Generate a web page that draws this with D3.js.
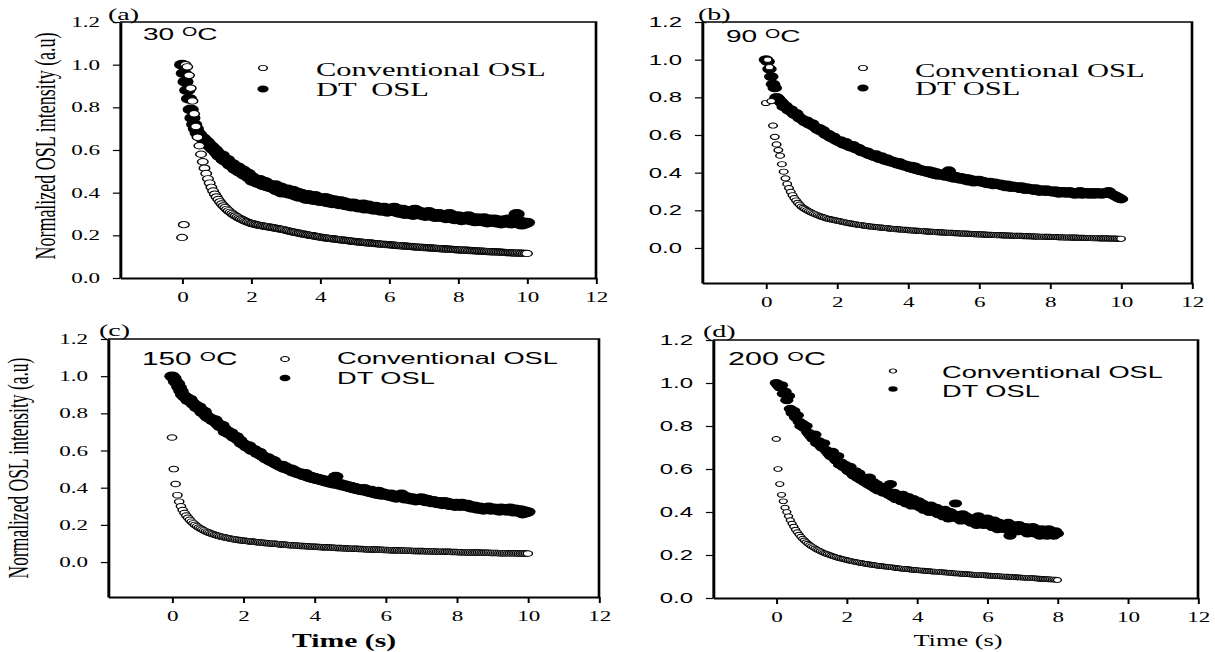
<!DOCTYPE html>
<html>
<head>
<meta charset="utf-8">
<script src="https://cdn.jsdelivr.net/npm/d3@7/dist/d3.min.js"></script>
<style>
  body { margin: 0; background: #fff; }
  svg { display: block; }
</style>
</head>
<body>
<svg id="chart" width="1215" height="652"></svg>
<script>
// channel width of the OSL readout (s)
const timeStep = 0.05;
const xTicks = [0, 2, 4, 6, 8, 10, 12];
const yTicks = [0, 0.2, 0.4, 0.6, 0.8, 1.0, 1.2];
const panelNames = ["(a)", "(b)", "(c)", "(d)"];
const temps = ["30", "90", "150", "200"];
const convName = "Conventional OSL";
const dtNames = ["DT  OSL", "DT OSL", "DT OSL", "DT OSL"];

// (a) 30 C
const convA = [0.19,0.25,1.00,0.99,0.95,0.89,0.83,0.77,0.71,0.66,0.62,
0.58,0.545,0.515,0.49,0.465,0.445,0.425,0.408,0.393,0.38,
0.368,0.357,0.347,0.338,0.33,0.322,0.315,0.308,0.302,0.296,
0.291,0.286,0.281,0.277,0.273,0.269,0.265,0.262,0.259,0.256,
0.254,0.252,0.250,0.248,0.247,0.245,0.244,0.242,0.241,0.240,
0.238,0.237,0.235,0.234,0.232,0.231,0.229,0.228,0.226,0.224,
0.222,0.220,0.218,0.216,0.215,0.213,0.211,0.210,0.208,0.206,
0.205,0.203,0.202,0.200,0.199,0.198,0.196,0.195,0.193,0.192,
0.190,0.189,0.188,0.187,0.186,0.185,0.184,0.183,0.182,0.181,
0.180,0.179,0.178,0.177,0.176,0.175,0.174,0.173,0.172,0.171,
0.170,0.169,0.168,0.168,0.167,0.166,0.165,0.164,0.164,0.163,
0.162,0.161,0.161,0.160,0.159,0.158,0.158,0.157,0.156,0.156,
0.155,0.154,0.154,0.153,0.152,0.152,0.151,0.150,0.150,0.149,
0.148,0.148,0.147,0.147,0.146,0.145,0.145,0.144,0.144,0.143,
0.142,0.142,0.141,0.141,0.140,0.140,0.139,0.139,0.138,0.137,
0.137,0.136,0.136,0.135,0.135,0.134,0.134,0.133,0.133,0.132,
0.132,0.131,0.131,0.130,0.130,0.129,0.129,0.128,0.128,0.127,
0.127,0.126,0.126,0.126,0.125,0.125,0.124,0.124,0.123,0.123,
0.122,0.122,0.122,0.121,0.121,0.120,0.120,0.119,0.119,0.119,
0.118,0.118,0.117,0.117,0.117,0.116,0.116,0.115,0.115,0.115];
const dtA = [1.00,0.96,0.92,0.88,0.84,0.79,0.75,0.72,0.70,0.68,0.67,
0.66,0.655,0.645,0.64,0.63,0.62,0.615,0.605,0.60,0.59,
0.58,0.57,0.575,0.555,0.55,0.555,0.54,0.53,0.535,0.52,
0.51,0.52,0.50,0.495,0.505,0.485,0.48,0.49,0.47,0.475,
0.455,0.465,0.45,0.445,0.46,0.44,0.435,0.45,0.43,0.44,
0.425,0.43,0.42,0.435,0.41,0.415,0.425,0.40,0.41,0.405,
0.415,0.395,0.40,0.41,0.39,0.385,0.40,0.38,0.395,0.385,
0.38,0.37,0.39,0.375,0.38,0.365,0.385,0.37,0.375,0.36,
0.37,0.365,0.375,0.355,0.37,0.36,0.35,0.365,0.355,0.36,
0.345,0.36,0.35,0.355,0.34,0.35,0.345,0.335,0.35,0.34,
0.345,0.33,0.34,0.335,0.345,0.325,0.335,0.34,0.325,0.33,
0.32,0.335,0.325,0.33,0.315,0.325,0.33,0.32,0.31,0.325,
0.315,0.32,0.33,0.31,0.32,0.305,0.315,0.32,0.30,0.31,
0.315,0.30,0.31,0.295,0.32,0.305,0.30,0.31,0.295,0.305,
0.29,0.30,0.31,0.295,0.29,0.30,0.285,0.295,0.30,0.29,
0.285,0.295,0.28,0.29,0.30,0.28,0.29,0.275,0.285,0.29,
0.28,0.27,0.285,0.275,0.28,0.29,0.27,0.28,0.275,0.265,
0.28,0.27,0.275,0.265,0.28,0.27,0.26,0.275,0.27,0.265,
0.275,0.26,0.27,0.265,0.255,0.27,0.26,0.265,0.275,0.26,
0.255,0.265,0.26,0.30,0.255,0.265,0.25,0.26,0.255,0.26];

// (b) 90 C
const convB = [0.77,1.00,0.96,0.78,0.65,0.59,0.55,0.52,0.49,0.445,0.405,
0.37,0.34,0.318,0.298,0.28,0.265,0.252,0.24,0.23,0.22,
0.213,0.207,0.201,0.196,0.191,0.186,0.182,0.178,0.174,0.17,
0.167,0.164,0.161,0.158,0.155,0.153,0.151,0.149,0.147,0.145,
0.143,0.141,0.139,0.137,0.135,0.133,0.131,0.13,0.128,0.126,
0.125,0.123,0.122,0.121,0.119,0.118,0.117,0.115,0.114,0.113,
0.112,0.111,0.11,0.109,0.108,0.107,0.106,0.105,0.104,0.103,
0.102,0.101,0.1,0.1,0.099,0.098,0.097,0.096,0.096,0.095,
0.094,0.093,0.093,0.092,0.091,0.091,0.09,0.089,0.089,0.088,
0.087,0.087,0.086,0.086,0.085,0.084,0.084,0.083,0.083,0.082,
0.082,0.081,0.081,0.08,0.08,0.079,0.079,0.078,0.078,0.077,
0.077,0.076,0.076,0.075,0.075,0.074,0.074,0.073,0.073,0.072,
0.072,0.072,0.071,0.071,0.07,0.07,0.07,0.069,0.069,0.068,
0.068,0.068,0.067,0.067,0.067,0.066,0.066,0.066,0.065,0.065,
0.065,0.064,0.064,0.064,0.063,0.063,0.063,0.062,0.062,0.062,
0.061,0.061,0.061,0.06,0.06,0.06,0.06,0.059,0.059,0.059,
0.058,0.058,0.058,0.058,0.057,0.057,0.057,0.056,0.056,0.056,
0.056,0.055,0.055,0.055,0.055,0.054,0.054,0.054,0.054,0.053,
0.053,0.053,0.053,0.052,0.052,0.052,0.052,0.051,0.051,0.051,
0.051,0.051,0.05,0.05,0.05,0.05,0.05,0.049,0.049,0.049];
const dtB = [1.00,0.99,0.95,0.91,0.87,0.85,0.80,0.79,0.78,0.77,0.75,
0.755,0.74,0.73,0.735,0.72,0.71,0.715,0.70,0.69,0.685,
0.68,0.67,0.675,0.66,0.655,0.66,0.645,0.64,0.63,0.635,
0.62,0.625,0.61,0.60,0.605,0.59,0.585,0.59,0.575,0.57,
0.565,0.57,0.555,0.55,0.56,0.545,0.54,0.535,0.545,0.53,
0.525,0.53,0.52,0.51,0.515,0.505,0.51,0.495,0.50,0.49,
0.485,0.495,0.48,0.475,0.485,0.47,0.465,0.475,0.46,0.465,
0.455,0.46,0.45,0.445,0.455,0.44,0.445,0.435,0.44,0.43,
0.425,0.435,0.42,0.43,0.415,0.42,0.41,0.415,0.405,0.41,
0.40,0.41,0.395,0.405,0.39,0.40,0.385,0.395,0.39,0.385,
0.38,0.39,0.41,0.375,0.385,0.37,0.38,0.375,0.365,0.375,
0.37,0.36,0.37,0.355,0.365,0.36,0.35,0.36,0.355,0.36,
0.35,0.355,0.345,0.35,0.34,0.35,0.345,0.335,0.345,0.34,
0.335,0.34,0.33,0.335,0.325,0.335,0.33,0.32,0.33,0.325,
0.32,0.325,0.315,0.325,0.32,0.31,0.32,0.315,0.31,0.315,
0.305,0.315,0.31,0.30,0.31,0.305,0.30,0.31,0.30,0.305,
0.30,0.295,0.305,0.30,0.29,0.30,0.295,0.30,0.29,0.295,
0.30,0.29,0.295,0.285,0.295,0.29,0.30,0.285,0.295,0.29,
0.295,0.285,0.29,0.295,0.285,0.29,0.295,0.29,0.285,0.29,
0.295,0.29,0.30,0.29,0.285,0.28,0.275,0.27,0.265,0.26];

// (c) 150 C
const convC = [0.67,0.50,0.42,0.36,0.325,0.30,0.28,0.264,0.25,0.238,0.227,
0.217,0.208,0.2,0.193,0.186,0.18,0.175,0.17,0.165,0.161,
0.157,0.153,0.15,0.147,0.144,0.141,0.138,0.136,0.134,0.132,
0.13,0.128,0.126,0.124,0.122,0.121,0.119,0.118,0.116,0.115,
0.114,0.113,0.112,0.111,0.11,0.109,0.108,0.107,0.106,0.105,
0.104,0.103,0.102,0.101,0.1,0.099,0.099,0.098,0.097,0.096,
0.095,0.094,0.094,0.093,0.092,0.091,0.091,0.09,0.089,0.089,
0.088,0.087,0.087,0.086,0.085,0.085,0.084,0.084,0.083,0.082,
0.082,0.081,0.081,0.08,0.08,0.079,0.079,0.078,0.078,0.077,
0.077,0.076,0.076,0.075,0.075,0.074,0.074,0.073,0.073,0.072,
0.072,0.072,0.071,0.071,0.07,0.07,0.07,0.069,0.069,0.068,
0.068,0.068,0.067,0.067,0.067,0.066,0.066,0.066,0.065,0.065,
0.065,0.064,0.064,0.064,0.063,0.063,0.063,0.062,0.062,0.062,
0.061,0.061,0.061,0.061,0.06,0.06,0.06,0.059,0.059,0.059,
0.059,0.058,0.058,0.058,0.057,0.057,0.057,0.057,0.056,0.056,
0.056,0.056,0.055,0.055,0.055,0.055,0.054,0.054,0.054,0.054,
0.053,0.053,0.053,0.053,0.052,0.052,0.052,0.052,0.051,0.051,
0.051,0.051,0.051,0.05,0.05,0.05,0.05,0.05,0.049,0.049,
0.049,0.049,0.049,0.048,0.048,0.048,0.048,0.048,0.047,0.047,
0.047,0.047,0.047,0.047,0.046,0.046,0.046,0.046,0.046,0.046];
const dtC = [1.00,0.99,0.97,0.96,0.94,0.92,0.90,0.89,0.885,0.87,0.875,
0.86,0.85,0.845,0.83,0.835,0.82,0.805,0.81,0.79,0.78,
0.775,0.77,0.76,0.765,0.75,0.74,0.73,0.735,0.72,0.70,
0.705,0.69,0.695,0.68,0.67,0.675,0.66,0.655,0.64,0.635,
0.63,0.62,0.625,0.61,0.60,0.605,0.595,0.585,0.59,0.575,
0.57,0.565,0.555,0.56,0.545,0.54,0.545,0.53,0.525,0.52,
0.515,0.52,0.505,0.51,0.50,0.495,0.50,0.485,0.49,0.48,
0.475,0.48,0.47,0.465,0.475,0.46,0.455,0.46,0.45,0.455,
0.445,0.45,0.44,0.445,0.435,0.44,0.43,0.435,0.425,0.43,
0.42,0.46,0.425,0.415,0.42,0.41,0.415,0.405,0.41,0.40,
0.405,0.395,0.40,0.39,0.395,0.385,0.39,0.395,0.38,0.385,
0.375,0.385,0.37,0.375,0.365,0.38,0.37,0.36,0.37,0.365,
0.36,0.355,0.365,0.35,0.36,0.345,0.355,0.35,0.365,0.345,
0.34,0.35,0.345,0.335,0.345,0.34,0.33,0.34,0.335,0.345,
0.33,0.34,0.325,0.335,0.33,0.32,0.33,0.325,0.315,0.325,
0.32,0.31,0.325,0.315,0.32,0.305,0.315,0.31,0.30,0.315,
0.31,0.30,0.315,0.305,0.30,0.31,0.295,0.30,0.29,0.30,
0.295,0.285,0.295,0.29,0.28,0.29,0.285,0.295,0.28,0.285,
0.29,0.28,0.285,0.275,0.29,0.28,0.285,0.275,0.28,0.29,
0.28,0.27,0.285,0.275,0.27,0.28,0.26,0.275,0.265,0.27];

// (d) 200 C, read out for 8 s only
const convD = [0.74,0.60,0.53,0.48,0.45,0.42,0.40,0.38,0.362,0.346,0.332,
0.318,0.306,0.295,0.285,0.276,0.268,0.26,0.253,0.247,0.241,
0.236,0.231,0.226,0.222,0.218,0.214,0.21,0.207,0.204,0.201,
0.198,0.195,0.192,0.19,0.187,0.185,0.183,0.181,0.179,0.177,
0.175,0.173,0.171,0.169,0.168,0.166,0.165,0.163,0.162,0.16,
0.159,0.158,0.156,0.155,0.154,0.153,0.151,0.15,0.149,0.148,
0.147,0.146,0.145,0.144,0.143,0.142,0.141,0.14,0.139,0.138,
0.137,0.136,0.135,0.135,0.134,0.133,0.132,0.131,0.131,0.13,
0.129,0.128,0.128,0.127,0.126,0.125,0.125,0.124,0.123,0.123,
0.122,0.121,0.121,0.12,0.119,0.119,0.118,0.117,0.117,0.116,
0.115,0.115,0.114,0.114,0.113,0.112,0.112,0.111,0.111,0.11,
0.109,0.109,0.108,0.108,0.107,0.107,0.106,0.106,0.105,0.105,
0.104,0.104,0.103,0.103,0.102,0.102,0.101,0.101,0.1,0.1,
0.099,0.099,0.098,0.098,0.097,0.097,0.096,0.096,0.095,0.095,
0.094,0.094,0.093,0.093,0.092,0.092,0.091,0.091,0.09,0.09,
0.089,0.089,0.088,0.088,0.087,0.087,0.086,0.086,0.085,0.084];
const dtD = [1.00,0.99,0.98,0.99,0.95,0.96,0.92,0.94,0.88,0.86,0.87,
0.84,0.85,0.82,0.80,0.81,0.79,0.80,0.77,0.76,0.75,
0.74,0.76,0.72,0.73,0.71,0.70,0.72,0.69,0.68,0.67,
0.66,0.68,0.65,0.64,0.66,0.62,0.63,0.61,0.62,0.60,
0.59,0.61,0.58,0.57,0.59,0.56,0.58,0.55,0.56,0.54,
0.55,0.53,0.56,0.52,0.54,0.51,0.53,0.50,0.52,0.51,
0.49,0.51,0.50,0.48,0.53,0.47,0.49,0.46,0.48,0.47,
0.45,0.48,0.46,0.44,0.47,0.45,0.43,0.46,0.44,0.43,
0.45,0.42,0.44,0.41,0.43,0.42,0.40,0.43,0.41,0.40,
0.42,0.39,0.41,0.40,0.38,0.41,0.39,0.37,0.40,0.38,
0.39,0.44,0.37,0.38,0.36,0.39,0.37,0.38,0.36,0.37,
0.35,0.37,0.36,0.34,0.38,0.35,0.36,0.34,0.35,0.37,
0.34,0.35,0.33,0.36,0.34,0.32,0.35,0.33,0.34,0.32,
0.33,0.35,0.29,0.34,0.32,0.33,0.31,0.34,0.32,0.33,
0.31,0.33,0.30,0.32,0.31,0.33,0.30,0.32,0.31,0.29,
0.32,0.30,0.31,0.29,0.32,0.30,0.31,0.29,0.31,0.30];

// the source figure is stretched sideways, so every panel is drawn
// in narrow units and scaled by S horizontally
const S = 1.65;
const serif = "'Liberation Serif','Times New Roman',Times,serif";
const sans = "'Liberation Sans',Arial,Helvetica,sans-serif";

const panels = [
  { conv: convA, dt: dtA, box: [120, 22, 596, 278], yMin: 0, tickFont: serif, legFont: serif, legSize: 18.5,
    convR: 3.2, dtR: 4.9, legR: [2.6, 3.4], leg: [263, 68, 89, 316, 76, 96],
    name: [108, 20], temp: [143, 40, 17], ylab: [55, 146, 18] },
  { conv: convB, dt: dtB, box: [702, 22, 1192, 283], yMin: -0.186, tickFont: sans, legFont: serif, legSize: 18.5,
    convR: 2.6, dtR: 4.4, legR: [2.6, 3.4], leg: [863, 68, 88, 915, 77, 95],
    name: [698, 20], temp: [726, 42, 17] },
  { conv: convC, dt: dtC, box: [108, 339, 599, 597], yMin: -0.188, tickFont: serif, legFont: sans, legSize: 16.5,
    convR: 2.8, dtR: 4.7, legR: [2.5, 3.3], leg: [285, 359, 378, 337, 364, 384],
    name: [99, 336], temp: [142, 365, 18], ylab: [28, 468, 17.5], xlab: [344, 647, 18, "bold"] },
  { conv: convD, dt: dtD, box: [713, 340, 1198, 598], yMin: 0, tickFont: sans, legFont: sans, legSize: 16.5,
    convR: 2.4, dtR: 4.0, legR: [2.1, 2.8], leg: [893, 371, 389, 942, 378, 397],
    name: [703, 337], temp: [728, 365, 18.5], xlab: [958, 646, 16, "normal"] }
];

const svg = d3.select("#chart");

panels.forEach((p, i) => {
  const [bx0, by0, bx1, by1] = p.box;
  const x = d3.scaleLinear().domain([-1.8, 12]).range([bx0 / S, bx1 / S]);
  const y = d3.scaleLinear().domain([p.yMin, 1.2]).range([by1, by0]);

  const g = svg.append("g").attr("transform", `scale(${S},1)`);

  // top and right edges of the frame
  g.append("path")
    .attr("d", `M${bx0 / S},${by0}H${bx1 / S}V${by1}`)
    .attr("fill", "none")
    .attr("stroke", "#000")
    .attr("stroke-width", 1.6);

  const gx = g.append("g")
    .attr("transform", `translate(0,${by1})`)
    .call(d3.axisBottom(x).tickValues(xTicks).tickFormat(d3.format("d")).tickSize(6).tickSizeOuter(0));
  gx.attr("font-family", serif).attr("font-size", 14);
  gx.select(".domain").attr("stroke-width", 2);
  gx.selectAll(".tick line").attr("stroke-width", 1.2);
  gx.selectAll(".tick text").attr("y", 24).attr("dy", null).attr("fill", "#000");

  const gy = g.append("g")
    .attr("transform", `translate(${bx0 / S},0)`)
    .call(d3.axisLeft(y).tickValues(yTicks).tickFormat(d3.format(".1f")).tickSize(4.3).tickPadding(7.8).tickSizeOuter(0));
  gy.attr("font-family", p.tickFont).attr("font-size", p.tickFont === sans ? 14.5 : 14);
  gy.select(".domain").attr("stroke-width", 1.8);
  gy.selectAll(".tick line").attr("stroke-width", 1.2);
  gy.selectAll(".tick text").attr("fill", "#000");

  const pts = arr => arr.map((v, k) => ({ t: k * timeStep, v }));

  g.append("g")
    .selectAll("circle")
    .data(pts(p.dt))
    .join("circle")
    .attr("cx", d => x(d.t))
    .attr("cy", d => y(d.v))
    .attr("r", p.dtR)
    .attr("fill", "#000");

  g.append("g")
    .selectAll("circle")
    .data(pts(p.conv))
    .join("circle")
    .attr("cx", d => x(d.t))
    .attr("cy", d => y(d.v))
    .attr("r", p.convR)
    .attr("fill", "#fff")
    .attr("stroke", "#000")
    .attr("stroke-width", 0.9);

  // legend
  const [lx, ly1, ly2, tx, ty1, ty2] = p.leg;
  g.append("circle").attr("cx", lx / S).attr("cy", ly1).attr("r", p.legR[0])
    .attr("fill", "#fff").attr("stroke", "#000").attr("stroke-width", 0.9);
  g.append("circle").attr("cx", lx / S).attr("cy", ly2).attr("r", p.legR[1]).attr("fill", "#000");
  g.append("text").attr("x", tx / S).attr("y", ty1)
    .attr("font-family", p.legFont).attr("font-size", p.legSize).text(convName);
  g.append("text").attr("x", tx / S).attr("y", ty2)
    .attr("font-family", p.legFont).attr("font-size", p.legSize)
    .style("white-space", "pre").text(dtNames[i]);

  // panel letter
  g.append("text").attr("x", p.name[0] / S).attr("y", p.name[1])
    .attr("font-family", serif).attr("font-size", 17).text(panelNames[i]);

  // temperature, with the raised O
  const tt = g.append("text").attr("x", p.temp[0] / S).attr("y", p.temp[1])
    .attr("font-family", sans).attr("font-size", p.temp[2])
    .style("white-space", "pre");
  tt.append("tspan").text(temps[i] + " ");
  tt.append("tspan").attr("font-size", p.temp[2] * 0.7).attr("dy", -3.6).text("O");
  tt.append("tspan").attr("dy", 3.6).text("C");

  if (p.ylab) {
    g.append("text")
      .attr("transform", `translate(${p.ylab[0] / S},${p.ylab[1]}) rotate(-90)`)
      .attr("text-anchor", "middle")
      .attr("font-family", serif)
      .attr("font-size", p.ylab[2])
      .text("Normalized OSL intensity (a.u)");
  }
  if (p.xlab) {
    g.append("text")
      .attr("x", p.xlab[0] / S).attr("y", p.xlab[1])
      .attr("text-anchor", "middle")
      .attr("font-family", serif)
      .attr("font-size", p.xlab[2])
      .attr("font-weight", p.xlab[3])
      .text("Time (s)");
  }
});
</script>
</body>
</html>
